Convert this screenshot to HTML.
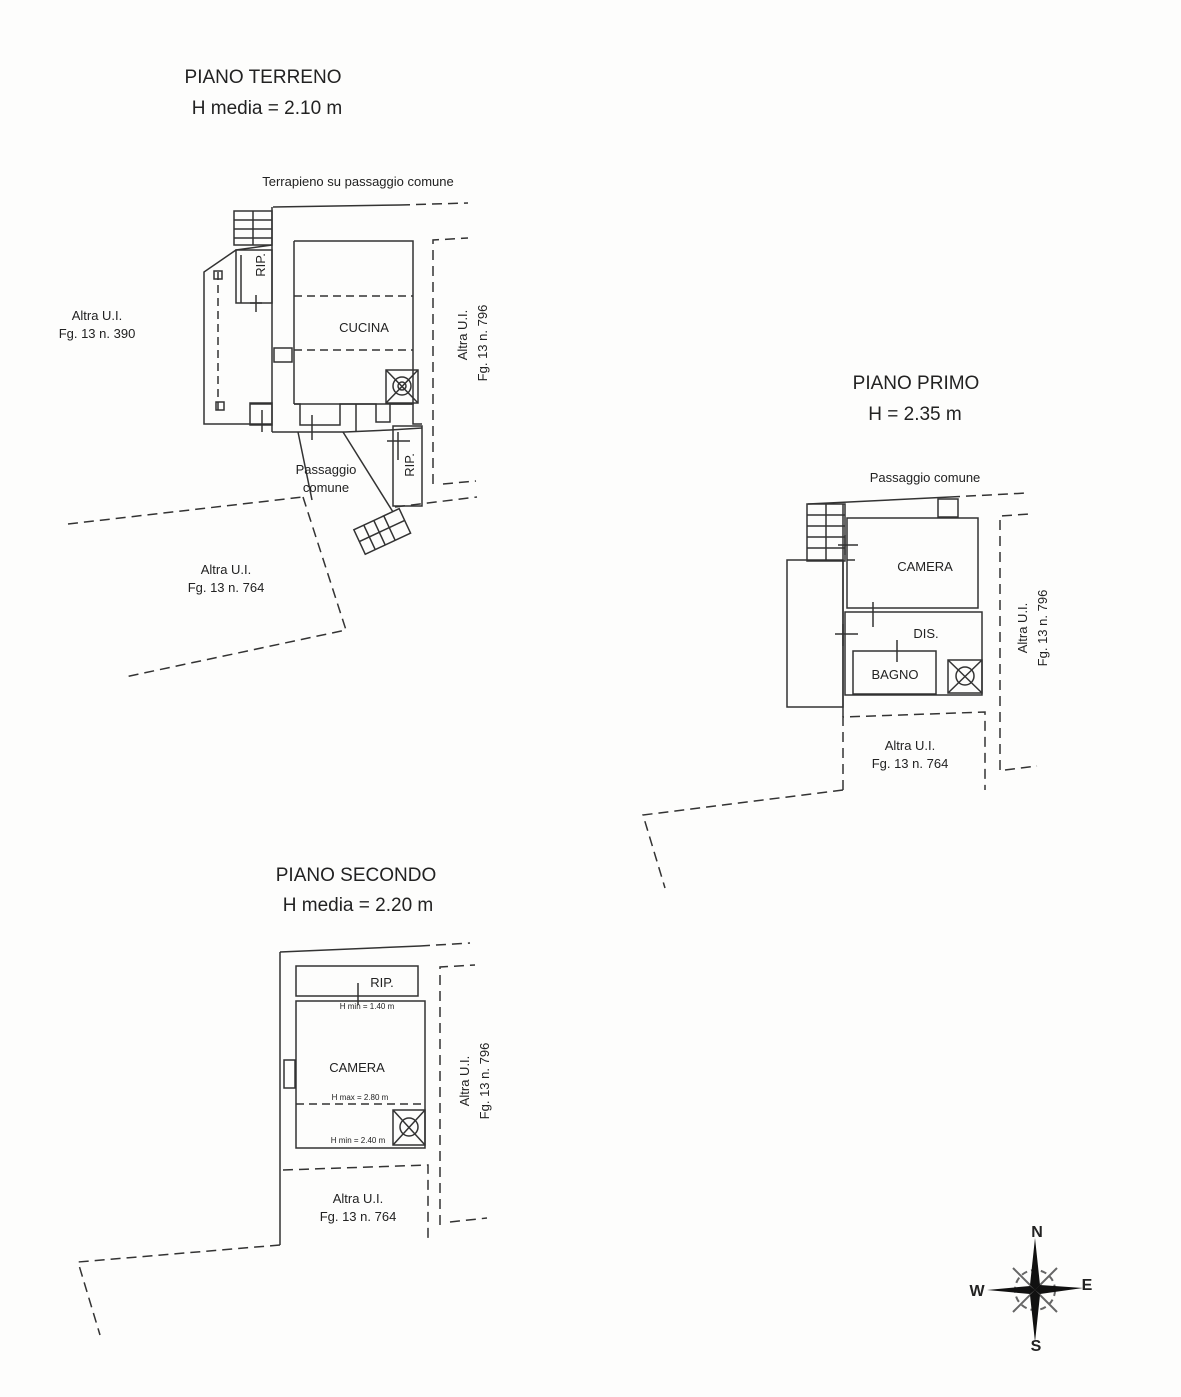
<!DOCTYPE html>
<html><head><meta charset="utf-8"><style>
html,body{margin:0;padding:0;background:#fdfdfc;}
svg{display:block;}
text{font-family:"Liberation Sans",sans-serif;fill:#222;}
</style></head><body>
<svg width="1181" height="1397" viewBox="0 0 1181 1397" xmlns="http://www.w3.org/2000/svg">
<g stroke="#333" stroke-width="1.5" fill="none">
<!-- ============ PIANO TERRENO ============ -->
<line x1="273" y1="207" x2="400" y2="205"/>
<line x1="400" y1="205" x2="468" y2="203" stroke-dasharray="10,6"/>
<!-- stairs -->
<rect x="234" y="211" width="38" height="34"/>
<line x1="234" y1="220" x2="272" y2="220"/><line x1="234" y1="229" x2="272" y2="229"/><line x1="234" y1="238" x2="272" y2="238"/><line x1="253" y1="211" x2="253" y2="245"/>
<!-- outer left -->
<polyline points="272,245 236,250 204,272 204,424 272,424"/>
<rect x="218" y="272" width="0" height="138" stroke-dasharray="8,5"/>
<line x1="218" y1="272" x2="218" y2="410" stroke-dasharray="8,5"/>
<rect x="214" y="271" width="8" height="8"/><rect x="216" y="402" width="8" height="8"/>
<!-- RIP -->
<rect x="236" y="250" width="36" height="53"/>
<line x1="241" y1="255" x2="241" y2="303"/>
<line x1="256" y1="295" x2="256" y2="312"/><line x1="250" y1="303" x2="262" y2="303"/>
<!-- corridor walls -->
<line x1="272" y1="207" x2="272" y2="432"/>
<line x1="294" y1="241" x2="294" y2="404"/>
<rect x="274" y="348" width="18" height="14"/>
<!-- cucina -->
<polyline points="294,241 413,241 413,404 294,404"/>
<line x1="294" y1="296" x2="413" y2="296" stroke-dasharray="8,5"/>
<line x1="294" y1="350" x2="413" y2="350" stroke-dasharray="8,5"/>
<rect x="386" y="370" width="32" height="33"/>
<circle cx="402" cy="386" r="9"/><circle cx="402" cy="386" r="4"/>
<line x1="386" y1="370" x2="418" y2="403"/><line x1="418" y1="370" x2="386" y2="403"/>
<!-- bottom walls -->
<polyline points="250,404 272,404"/>
<rect x="250" y="403" width="22" height="22"/>
<line x1="262" y1="410" x2="262" y2="432"/>
<polyline points="272,432 300,432 345,432 390,430 422,428"/>
<polyline points="294,404 300,404 300,425 340,425 340,404 376,404 376,422 390,422 390,404 413,404 413,424 422,424"/>
<line x1="312" y1="415" x2="312" y2="440"/>
<line x1="356" y1="404" x2="356" y2="432"/>
<!-- passage -->
<line x1="298" y1="432" x2="312" y2="500"/>
<line x1="343" y1="432" x2="393" y2="512"/>
<!-- rip right -->
<rect x="393" y="426" width="29" height="80"/>
<line x1="387" y1="441" x2="410" y2="441"/><line x1="398" y1="432" x2="398" y2="460"/>
<!-- stairs lower -->
<g transform="rotate(-25 382 531)"><rect x="357" y="518" width="50" height="27"/><line x1="368" y1="518" x2="368" y2="545"/><line x1="379" y1="518" x2="379" y2="545"/><line x1="390" y1="518" x2="390" y2="545"/><line x1="357" y1="531" x2="407" y2="531"/></g>
<!-- boundaries -->
<g stroke-dasharray="10,6">
<polyline points="433,484 433,240 468,238"/>
<line x1="443" y1="484" x2="476" y2="481"/>
<line x1="68" y1="524" x2="303" y2="497"/>
<line x1="395" y1="507" x2="477" y2="497"/>
<polyline points="303,497 346,630 125,677"/>
</g>
<!-- ============ PIANO PRIMO ============ -->
<line x1="808" y1="504" x2="950" y2="497"/>
<line x1="950" y1="497" x2="1027" y2="493" stroke-dasharray="10,6"/>
<rect x="807" y="504" width="38" height="57"/>
<line x1="807" y1="515" x2="845" y2="515"/><line x1="807" y1="526" x2="845" y2="526"/><line x1="807" y1="537" x2="845" y2="537"/><line x1="807" y1="548" x2="845" y2="548"/><line x1="826" y1="504" x2="826" y2="561"/>
<rect x="938" y="499" width="20" height="18"/>
<rect x="787" y="560" width="56" height="147"/>
<line x1="843" y1="504" x2="843" y2="717"/>
<rect x="847" y="518" width="131" height="90"/>
<line x1="847" y1="560" x2="855" y2="560"/>
<line x1="838" y1="545" x2="858" y2="545"/><line x1="845" y1="535" x2="845" y2="555"/>
<line x1="873" y1="602" x2="873" y2="627"/>
<rect x="845" y="612" width="137" height="83"/>
<line x1="835" y1="634" x2="858" y2="634"/><line x1="843" y1="624" x2="843" y2="646"/>
<rect x="853" y="651" width="83" height="43"/>
<line x1="897" y1="640" x2="897" y2="662"/>
<rect x="948" y="660" width="34" height="33"/>
<circle cx="965" cy="676" r="9"/><line x1="948" y1="660" x2="982" y2="693"/><line x1="982" y1="660" x2="948" y2="693"/>
<g stroke-dasharray="10,6">
<polyline points="1000,770 1000,516 1030,514"/>
<line x1="1005" y1="770" x2="1037" y2="766"/>
<polyline points="843,790 843,717 985,712 985,790"/>
<polyline points="843,790 643,815 665,888"/>
</g>
<!-- ============ PIANO SECONDO ============ -->
<line x1="280" y1="952" x2="420" y2="946"/>
<line x1="420" y1="946" x2="470" y2="943" stroke-dasharray="10,6"/>
<line x1="280" y1="952" x2="280" y2="1245"/>
<rect x="296" y="966" width="122" height="30"/>
<line x1="358" y1="983" x2="358" y2="1005"/>
<rect x="296" y="1001" width="129" height="147"/>
<line x1="296" y1="1104" x2="425" y2="1104" stroke-dasharray="8,5"/>
<rect x="393" y="1110" width="32" height="35"/>
<circle cx="409" cy="1127" r="9"/><line x1="393" y1="1110" x2="425" y2="1145"/><line x1="425" y1="1110" x2="393" y2="1145"/>
<rect x="284" y="1060" width="11" height="28"/>
<g stroke-dasharray="10,6">
<polyline points="440,1225 440,967 475,965"/>
<line x1="450" y1="1222" x2="487" y2="1218"/>
<polyline points="283,1170 428,1165 428,1240"/>
<polyline points="280,1245 78,1262 100,1335"/>
</g>
</g>
<!-- compass -->
<g transform="translate(1035,1290)">
<g stroke="#666" stroke-width="2" fill="none">
<circle r="20" stroke-dasharray="6,4"/>
<line x1="-22" y1="-22" x2="22" y2="22"/><line x1="22" y1="-22" x2="-22" y2="22"/>
</g>
<polygon points="0,-52 5,-5 0,0 -5,-5" fill="#111"/>
<polygon points="0,52 5,5 0,0 -5,5" fill="#111"/>
<polygon points="-48,0 -5,-4 0,0 -5,4" fill="#111"/>
<polygon points="48,-2 5,-5 0,0 5,4" fill="#111"/>
</g>
<g font-size="17">
<text x="1037" y="1237" text-anchor="middle" font-weight="bold" font-size="16">N</text>
<text x="1036" y="1351" text-anchor="middle" font-weight="bold" font-size="16">S</text>
<text x="977" y="1296" text-anchor="middle" font-weight="bold" font-size="16">W</text>
<text x="1087" y="1290" text-anchor="middle" font-weight="bold" font-size="16">E</text>
</g>
<!-- titles -->
<text x="263" y="83" text-anchor="middle" font-size="19">PIANO TERRENO</text>
<text x="267" y="114" text-anchor="middle" font-size="19">H media = 2.10 m</text>
<text x="916" y="389" text-anchor="middle" font-size="19">PIANO PRIMO</text>
<text x="915" y="420" text-anchor="middle" font-size="19">H = 2.35 m</text>
<text x="356" y="881" text-anchor="middle" font-size="19">PIANO SECONDO</text>
<text x="358" y="911" text-anchor="middle" font-size="19">H media = 2.20 m</text>
<!-- labels -->
<g font-size="13">
<text x="358" y="186" text-anchor="middle">Terrapieno su passaggio comune</text>
<text x="364" y="332" text-anchor="middle">CUCINA</text>
<text x="97" y="320" text-anchor="middle">Altra U.I.</text>
<text x="97" y="338" text-anchor="middle">Fg. 13 n. 390</text>
<text transform="translate(467,335) rotate(-90)" text-anchor="middle">Altra U.I.</text>
<text transform="translate(487,343) rotate(-90)" text-anchor="middle">Fg. 13 n. 796</text>
<text transform="translate(265,265) rotate(-90)" text-anchor="middle">RIP.</text>
<text transform="translate(414,465) rotate(-90)" text-anchor="middle">RIP.</text>
<text x="326" y="474" text-anchor="middle">Passaggio</text>
<text x="326" y="492" text-anchor="middle">comune</text>
<text x="226" y="574" text-anchor="middle">Altra U.I.</text>
<text x="226" y="592" text-anchor="middle">Fg. 13 n. 764</text>
<text x="925" y="482" text-anchor="middle">Passaggio comune</text>
<text x="925" y="571" text-anchor="middle">CAMERA</text>
<text x="926" y="638" text-anchor="middle">DIS.</text>
<text x="895" y="679" text-anchor="middle">BAGNO</text>
<text transform="translate(1027,628) rotate(-90)" text-anchor="middle">Altra U.I.</text>
<text transform="translate(1047,628) rotate(-90)" text-anchor="middle">Fg. 13 n. 796</text>
<text x="910" y="750" text-anchor="middle">Altra U.I.</text>
<text x="910" y="768" text-anchor="middle">Fg. 13 n. 764</text>
<text x="382" y="987" text-anchor="middle">RIP.</text>
<text x="357" y="1072" text-anchor="middle">CAMERA</text>
<text transform="translate(469,1081) rotate(-90)" text-anchor="middle">Altra U.I.</text>
<text transform="translate(489,1081) rotate(-90)" text-anchor="middle">Fg. 13 n. 796</text>
<text x="358" y="1203" text-anchor="middle">Altra U.I.</text>
<text x="358" y="1221" text-anchor="middle">Fg. 13 n. 764</text>
</g>
<g font-size="8">
<text x="367" y="1009" text-anchor="middle">H min = 1.40 m</text>
<text x="360" y="1100" text-anchor="middle">H max = 2.80 m</text>
<text x="358" y="1143" text-anchor="middle">H min = 2.40 m</text>
</g>
</svg>
</body></html>
